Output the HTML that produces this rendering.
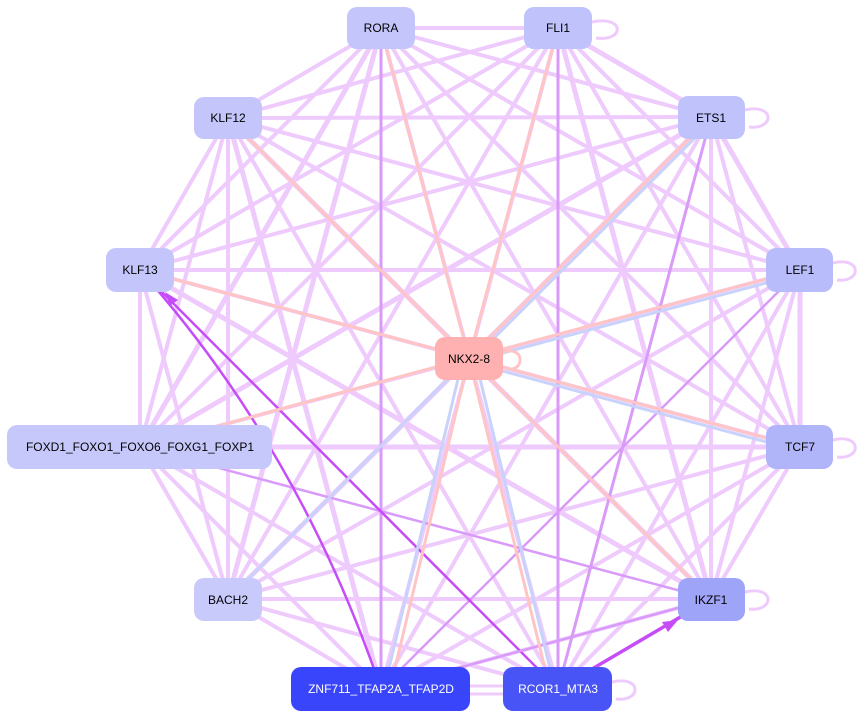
<!DOCTYPE html>
<html><head><meta charset="utf-8"><style>
html,body{margin:0;padding:0;background:#fff;}
svg{display:block;}
text{font-family:"Liberation Sans",sans-serif;font-size:12px;}
</style></head><body>
<svg width="865" height="718" viewBox="0 0 865 718" xmlns="http://www.w3.org/2000/svg">
<g stroke="#eecbfc" stroke-width="4" fill="none">
<line x1="381" y1="28" x2="558" y2="28"/>
<line x1="381" y1="28" x2="228" y2="118"/>
<line x1="381" y1="28" x2="711" y2="117"/>
<line x1="381" y1="28" x2="140" y2="270"/>
<line x1="381" y1="28" x2="800" y2="270"/>
<line x1="381" y1="28" x2="140" y2="447" stroke-width="5"/>
<line x1="381" y1="28" x2="800" y2="447"/>
<line x1="381" y1="28" x2="228" y2="599" stroke-width="5"/>
<line x1="381" y1="28" x2="711" y2="599"/>
<line x1="381" y1="28" x2="558" y2="689"/>
<line x1="558" y1="28" x2="228" y2="118"/>
<line x1="558" y1="28" x2="711" y2="117" stroke-width="5"/>
<line x1="558" y1="28" x2="140" y2="270"/>
<line x1="558" y1="28" x2="800" y2="270"/>
<line x1="558" y1="28" x2="140" y2="447"/>
<line x1="558" y1="28" x2="800" y2="447"/>
<line x1="558" y1="28" x2="228" y2="599"/>
<line x1="558" y1="28" x2="711" y2="599" stroke-width="5"/>
<line x1="558" y1="28" x2="381" y2="689"/>
<line x1="228" y1="118" x2="711" y2="117"/>
<line x1="228" y1="118" x2="140" y2="270"/>
<line x1="228" y1="118" x2="800" y2="270"/>
<line x1="228" y1="118" x2="140" y2="447"/>
<line x1="228" y1="118" x2="800" y2="447"/>
<line x1="228" y1="118" x2="228" y2="599"/>
<line x1="228" y1="118" x2="711" y2="599" stroke-width="5"/>
<line x1="228" y1="118" x2="381" y2="689" stroke-width="5"/>
<line x1="228" y1="118" x2="558" y2="689"/>
<line x1="711" y1="117" x2="140" y2="270"/>
<line x1="711" y1="117" x2="800" y2="270" stroke-width="5"/>
<line x1="711" y1="117" x2="140" y2="447" stroke-width="5"/>
<line x1="711" y1="117" x2="800" y2="447"/>
<line x1="711" y1="117" x2="228" y2="599" stroke-width="5"/>
<line x1="711" y1="117" x2="711" y2="599"/>
<line x1="711" y1="117" x2="381" y2="689"/>
<line x1="140" y1="270" x2="800" y2="270"/>
<line x1="140" y1="270" x2="140" y2="447"/>
<line x1="140" y1="270" x2="800" y2="447"/>
<line x1="140" y1="270" x2="228" y2="599"/>
<line x1="140" y1="270" x2="711" y2="599" stroke-width="5"/>
<line x1="800" y1="270" x2="140" y2="447"/>
<line x1="800" y1="270" x2="800" y2="447" stroke-width="5"/>
<line x1="800" y1="270" x2="228" y2="599"/>
<line x1="800" y1="270" x2="711" y2="599"/>
<line x1="800" y1="270" x2="558" y2="689"/>
<line x1="140" y1="447" x2="800" y2="447" stroke-width="5"/>
<line x1="140" y1="447" x2="228" y2="599"/>
<line x1="140" y1="447" x2="381" y2="689"/>
<line x1="140" y1="447" x2="558" y2="689"/>
<line x1="800" y1="447" x2="228" y2="599"/>
<line x1="800" y1="447" x2="711" y2="599"/>
<line x1="800" y1="447" x2="381" y2="689"/>
<line x1="800" y1="447" x2="558" y2="689"/>
<line x1="228" y1="599" x2="711" y2="599"/>
<line x1="228" y1="599" x2="381" y2="689"/>
<line x1="228" y1="599" x2="558" y2="689"/>
<line x1="711" y1="599" x2="381" y2="689"/>
</g>
<g fill="none" stroke-width="3">
<line x1="558" y1="28" x2="558" y2="689" stroke="#d99af9"/>
<line x1="381" y1="28" x2="381" y2="689" stroke="#d99af9"/>
<line x1="711" y1="117" x2="558" y2="689" stroke="#d99af9"/>
<line x1="800" y1="270" x2="381" y2="689" stroke="#d99af9" stroke-width="2.5"/>
<line x1="711" y1="599" x2="140" y2="447" stroke="#d99af9" stroke-width="2.5"/>
<line x1="558" y1="689" x2="140" y2="270" stroke="#c64cf8" stroke-width="2.5"/>
<path d="M381,689 Q300,450 140,270" stroke="#c64cf8" stroke-width="2.5"/>
<line x1="558" y1="689" x2="711" y2="599" stroke="#c64cf8" stroke-width="3.5"/>
<line x1="381" y1="689" x2="711" y2="599" stroke="#d99af9" stroke-width="2.5"/>
<line x1="469" y1="358" x2="381" y2="28" stroke="#ffc4c4"/>
<line x1="469" y1="358" x2="558" y2="28" stroke="#ffc4c4"/>
<line x1="469" y1="358" x2="711" y2="117" stroke="#ffc4c4"/>
<line x1="469" y1="358" x2="228" y2="118" stroke="#ffc4c4"/>
<line x1="469" y1="358" x2="140" y2="270" stroke="#ffc4c4"/>
<line x1="469" y1="358" x2="140" y2="447" stroke="#ffc4c4"/>
<line x1="469" y1="358" x2="800" y2="270" stroke="#ffc4c4"/>
<line x1="469" y1="358" x2="800" y2="447" stroke="#ffc4c4"/>
<line x1="469" y1="358" x2="711" y2="599" stroke="#ffc4c4"/>
<line x1="469" y1="358" x2="390" y2="689" stroke="#ffc4c4"/>
<line x1="469" y1="358" x2="550" y2="689" stroke="#ffc4c4"/>
<line x1="474" y1="358" x2="716" y2="117" stroke="#c9d2fa"/>
<line x1="469" y1="362" x2="800" y2="274" stroke="#c9d2fa"/>
<line x1="469" y1="362" x2="800" y2="451" stroke="#c9d2fa"/>
<line x1="469" y1="358" x2="228" y2="599" stroke="#c9d2fa"/>
<line x1="463" y1="358" x2="384" y2="689" stroke="#c9d2fa"/>
<line x1="475" y1="358" x2="555" y2="689" stroke="#c9d2fa"/>
</g>
<g fill="#c64cf8">
<path d="M165,292 L178,300 L170,306z"/>
<path d="M678,620 L662,622 L668,632z"/>
</g>
<g fill="none" stroke="#eecbfc" stroke-width="3">
<path d="M592,22 C625,15 625,42 596,38"/>
<path d="M745,110 C775,103 775,130 749,127"/>
<path d="M833,263 C862,256 862,283 837,280"/>
<path d="M833,440 C862,433 862,460 837,457"/>
<path d="M745,592 C775,585 775,612 749,609"/>
<path d="M612,682 C642,675 642,702 616,699"/>
<path d="M503,352 C525,345 525,372 507,369" stroke="#ffc4c4"/>
<path d="M470,686 L503,686"/>
<path d="M503,694 L470,694"/>
</g>
<g>
<rect x="347" y="7" width="68" height="42" rx="10" fill="#c3c5fb"/>
<text x="381" y="32" text-anchor="middle">RORA</text>
<rect x="524" y="7" width="68" height="42" rx="10" fill="#bfc2fb"/>
<text x="558" y="32" text-anchor="middle">FLI1</text>
<rect x="194" y="97" width="68" height="42" rx="10" fill="#c3c5fb"/>
<text x="228" y="122" text-anchor="middle">KLF12</text>
<rect x="678" y="96" width="67" height="43" rx="10" fill="#bfc2fb"/>
<text x="711" y="122" text-anchor="middle">ETS1</text>
<rect x="106" y="248" width="68" height="44" rx="10" fill="#c3c5fb"/>
<text x="140" y="274" text-anchor="middle">KLF13</text>
<rect x="766" y="248" width="67" height="44" rx="10" fill="#b9bcfa"/>
<text x="800" y="274" text-anchor="middle">LEF1</text>
<rect x="435" y="337" width="68" height="43" rx="10" fill="#ffb0b0"/>
<text x="469" y="363" text-anchor="middle">NKX2-8</text>
<rect x="7" y="425" width="265" height="44" rx="10" fill="#c6c8fb"/>
<text x="140" y="451" text-anchor="middle">FOXD1_FOXO1_FOXO6_FOXG1_FOXP1</text>
<rect x="766" y="425" width="67" height="44" rx="10" fill="#b0b4f9"/>
<text x="800" y="451" text-anchor="middle">TCF7</text>
<rect x="194" y="578" width="68" height="43" rx="10" fill="#c8cafb"/>
<text x="228" y="604" text-anchor="middle">BACH2</text>
<rect x="678" y="578" width="67" height="43" rx="10" fill="#9ea4f8"/>
<text x="711" y="604" text-anchor="middle">IKZF1</text>
<rect x="291" y="667" width="179" height="44" rx="10" fill="#3845fb"/>
<text x="381" y="693" text-anchor="middle" fill="#fff">ZNF711_TFAP2A_TFAP2D</text>
<rect x="503" y="667" width="109" height="44" rx="10" fill="#4954f6"/>
<text x="558" y="693" text-anchor="middle" fill="#fff">RCOR1_MTA3</text>
</g>
</svg>
</body></html>
